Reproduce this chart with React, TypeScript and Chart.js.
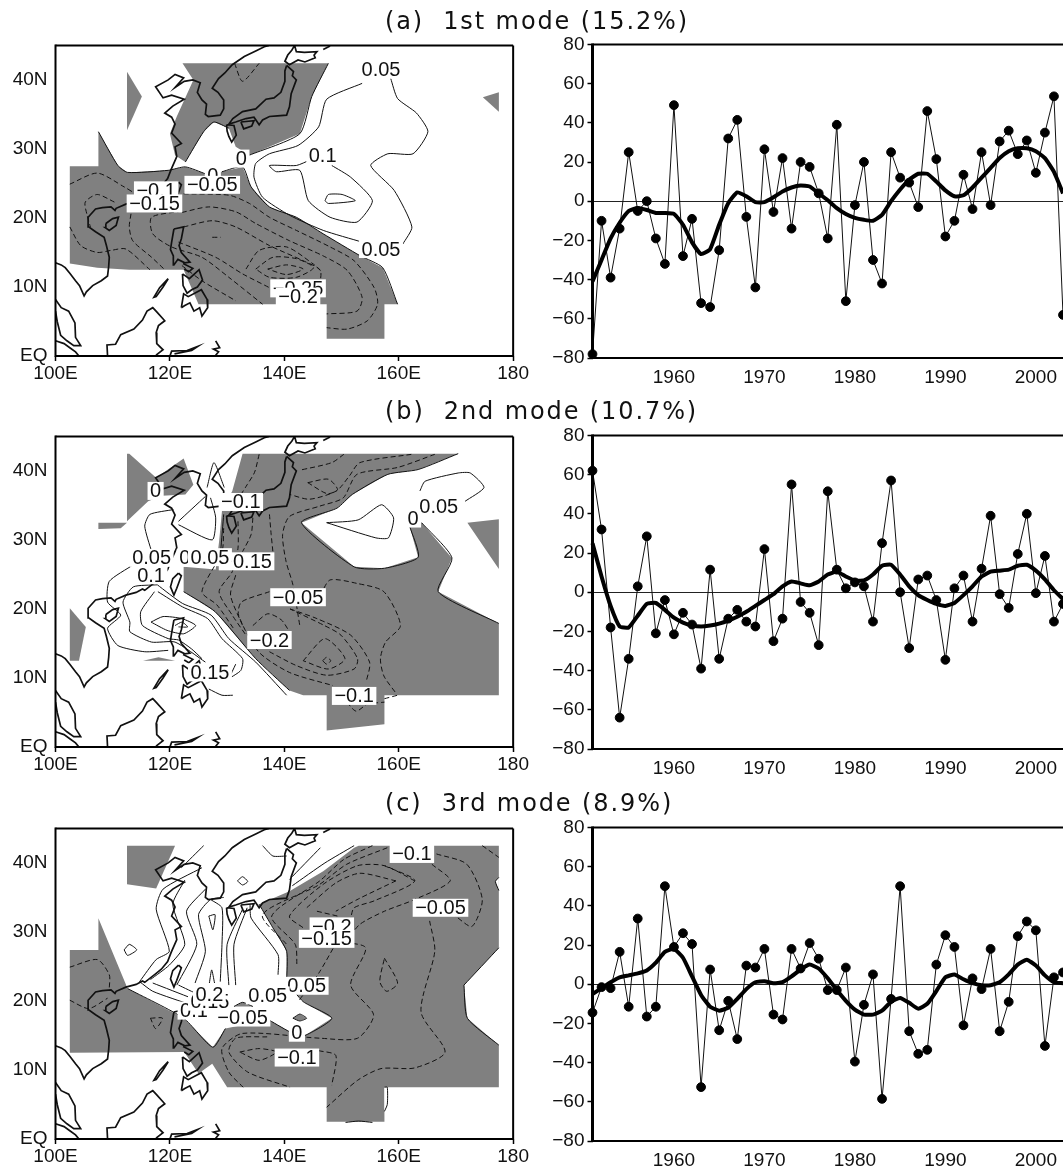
import React, { useEffect, useRef } from "react";
import { Chart, registerables } from "chart.js";
Chart.register(...registerables);

type P = number[];
type Lab = [number, number, string];

const years = [1951,1952,1953,1954,1955,1956,1957,1958,1959,1960,1961,1962,1963,1964,1965,1966,1967,1968,1969,1970,1971,1972,1973,1974,1975,1976,1977,1978,1979,1980,1981,1982,1983,1984,1985,1986,1987,1988,1989,1990,1991,1992,1993,1994,1995,1996,1997,1998,1999,2000,2001,2002,2003];

const pc1 = [-78,-10,-39,-14,25,-5,0,-19,-32,49,-28,-9,-52,-54,-25,32,41.5,-8,-44,26.5,-5.5,22,-14,20,17.5,4,-19,39,-51,-2,20,-30,-42,25,12,9.5,-3,46,21.5,-18,-10,13.5,-4,25,-2,30.5,36,24,31,14.5,35,53.5,-58];
const smooth1 = [-41,-30,-19,-11,-5,-3.5,-4.5,-6,-6,-6.5,-12,-21,-27,-24.5,-12,-1,4.5,2.5,-0.5,-0.5,2,5,7,8,7.5,4,0.5,-3.5,-6.5,-8.5,-9.5,-10,-7,0,6,11,14,14,10,5.5,2.5,3,7,12,17,22,25.5,27,27,25.5,22,15,4];
const pc2 = [62,32,-18,-64,-34,3,28.5,-21,-4,-21.5,-10.5,-16.5,-39,11.5,-34,-13.5,-9,-15,-17.5,22,-25,-13.5,55,-5,-10.5,-27,51.5,11.5,2,5,3,-15,25,57,0,-28.5,6.5,8.5,-4,-34.5,2,8.5,-15,12,39,-1,-8,19.5,40,-0.5,18.5,-15,-6];
const smooth2 = [25,8,-7,-17.5,-18,-12,-6,-5.5,-9,-13,-15.5,-17,-17.5,-17,-16,-14.5,-12.5,-10,-7,-4,-1,3,5.5,4.5,3.5,5.5,9,10.5,8,6,6,9,13.5,14,9,3,-1.5,-4,-6,-7,-5.5,-1.5,3,8,10.5,11,11.5,13.5,14,11,6.5,1,-3.5];
const pc3 = [-14.5,-1.5,-2,16.5,-11.5,33.5,-16.5,-11.5,50,19,26,20.5,-52.5,7.5,-23.5,-8.5,-28,9.5,8.5,18,-15.5,-18,18,8,21,13,-3,-3,8.5,-39.5,-10.5,5,-58.5,-7.5,50,-24,-35.5,-33.5,10,25,19,-21,3,-2.5,18,-24,-9,24.5,32,27.5,-31.5,3.5,6];
const smooth3 = [-5,-2,1,3.5,4.5,5.5,7,11,16.5,18,13.5,4,-5.5,-11.5,-13.5,-12,-7.5,-2.5,1,1.5,0.5,1,4,7.5,10,8,3,-3,-8.5,-13,-15.5,-15.5,-13.5,-9,-7,-9.5,-12.5,-10,-3.5,3.5,5,2.5,0.5,-0.5,-0.5,1,5,10,12.5,9.5,4.5,1,0.5];

const yearTicks = [1960,1970,1980,1990,2000];
const amplitudeTicks = [-80,-60,-40,-20,0,20,40,60,80];
const lonTicks = [100,120,140,160,180];
const lonLabels = ["100E","120E","140E","160E","180"];
const latTicks = [0,10,20,30,40];
const latLabels = ["EQ","10N","20N","30N","40N"];

const titles = ["(a)  1st mode (15.2%)","(b)  2nd mode (10.7%)","(c)  3rd mode (8.9%)"];

const coastline: P[][] = [
  [[100,13.5],[101,13.2],[101.7,12.8],[102.5,12],[103.5,10.9],[104.2,10.2],[105,8.7],[105.4,9.3],[106.5,10.2],[108,10.9],[109.1,11.6],[109.3,13],[109.4,14.3],[108.9,16],[108.5,17.2],[107,18],[105.8,18.7],[105.7,20.1],[107,21.3],[108.2,21.5],[109.7,21.6],[110.4,21.1],[110.6,21.4],[112.3,22],[114.1,22.4],[115.2,22.9],[115.6,22.7],[117.6,24],[118.5,24.6],[119.6,25.7],[120.2,27],[121.2,28.9],[120.9,30.3],[122,30.8],[120.3,32.3],[120.9,33.6],[120.3,34.6],[119.1,35.2],[120.5,36.2],[122.5,37.2],[120.3,37.8],[118.8,37.4],[117.5,39],[119.7,40],[120.9,40.8],[122.4,40.3],[120.9,38.9],[122.5,39.8],[124,40],[125.3,39.6],[124.8,38.2],[125.6,37.1],[126.4,36.5],[126.2,35],[126.7,34.7],[128.8,34.9],[129.4,35.8],[129.4,37.1],[128.4,38.2],[127.4,38.8],[128.5,40.2],[129.6,41],[130.9,42.2],[133,43.4],[135,44.2],[136.5,44.8],[137.3,45]],
  [[141.8,45],[142.1,44.1],[143.5,44],[145.7,44.1],[145.2,43.6],[145.4,43.2],[143.6,42.6],[142.4,42.9],[140.9,42.2],[140.1,42.7],[140.6,43.6],[141.3,44.3],[141.8,45]],
  [[146.8,44.4],[148,44.9]],
  [[140.4,42.1],[141.6,41.2],[141.4,40.6],[142.1,40],[141.2,38],[140.9,36.1],[140.4,34.9],[138.8,34.8],[137.4,34.7],[136.2,34.2],[135.6,33.5],[134.7,34.6],[133.3,34.4],[131.5,33.9],[130.3,33.6],[131,34.4],[132.7,35.4],[135,35.8],[136.8,37.2],[138.2,37.4],[139.4,38.2],[140.1,39.8],[140.1,41.3],[140.4,42.1]],
  [[129.9,33.5],[131.2,33.4],[131.6,32],[130.8,31],[130.3,31.8],[130,32.6],[129.9,33.5]],
  [[132.4,33.9],[134.7,34.1],[134.3,33.3],[132.9,32.9],[132.4,33.9]],
  [[121.5,25.2],[122,24.8],[121.2,23],[120.7,22],[120.1,23.2],[120.5,24.4],[121.5,25.2]],
  [[108.8,19.2],[110,19.9],[111,20.1],[110.6,18.9],[109.4,18.2],[108.7,18.6],[108.8,19.2]],
  [[120.7,18.4],[122.4,18.7],[122,17],[121.6,16],[122,15],[123.5,13.6],[122.6,13.5],[121.4,14],[120.7,13.2],[120.6,14.5],[120.1,15.4],[120.3,16.5],[120.7,18.4]],
  [[122.3,13.4],[124,12.7],[123.3,12.2],[122.5,12.6]],
  [[122.2,11.9],[123.4,11.2],[125.1,12.5],[125.7,11],[124.8,10],[123.8,9.6],[123,9.1],[122.3,10.2],[122.2,11.9]],
  [[122,7],[122.4,9],[123.2,8.6],[125.5,9.6],[126.5,8.2],[126.6,7],[125.6,5.8],[125.2,7],[124.2,6.5],[123.5,7.7],[122.6,7.3],[122,7]],
  [[119.7,11.2],[118.2,9.9],[117.2,8.5],[117.6,8.6],[118.8,10],[119.7,11.2]],
  [[109.1,0],[109,1.6],[110.5,1.7],[111.4,3.1],[113.7,3.9],[115.2,5.2],[116,6.5],[117,7],[117.7,6.4],[119.1,5.1],[118,4.4],[117.6,3.4],[117.7,1.8],[118.8,0.9],[117.7,0.2],[117.5,0]],
  [[120,0],[120.3,0.7],[123,0.8],[124.9,1.4],[123.8,0.8],[120.8,0.3]],
  [[128,2.2],[128.7,1.2],[127.6,1],[128.5,0.6],[127.9,0]],
  [[100,8.2],[101,7],[102.3,6.5],[103.4,4.8],[103.5,2.7],[104.4,1.5],[103.2,1.5],[102,2.2],[100.9,3],[100.3,5],[100,6.5]],
  [[100,2.2],[101.5,1.8],[102.5,1.2],[103.5,0.6],[104.1,0]],
];

const grayA: P[][] = [
  [[122.2,42.4],[147.7,42.4],[144.8,37.6],[142.7,32.2],[133.9,29.1],[131.5,30.3],[130.3,33],[127.7,33.9],[125.9,32.5],[122.7,28.1],[120.9,29.1],[120,32.2],[121.2,34.7],[124.1,40]],
  [[112.5,41.2],[115.1,37.6],[112.5,32.7]],
  [[177.5,38.2],[174.7,37.5],[177.5,35.4]],
  [[102.5,27.5],[107.5,27.5],[107.5,32.5],[110.9,27.6],[112.6,26.6],[119.7,26.9],[122.7,27.4],[126.2,26.4],[129.1,26.7],[132.7,27.4],[134.2,24.5],[137.4,21.6],[142.1,20.1],[146.8,17.7],[153.3,14.5],[157.2,12.8],[159.8,7.5],[157.5,7.5],[157.5,2.5],[147.4,2.5],[147.4,7.5],[125,7.5],[122.4,12.5],[112.9,12.5],[107.3,12.8],[102.5,13.4]],
];
const dashedA: P[][] = [
  [[102.5,24.9],[107.3,26.5],[112,24.5],[114,23.5]],
  [[110.3,22.3],[107.3,23.4],[105.2,22.3],[105.5,20.5],[106.1,18.7]],
  [[102.5,18.7],[104.4,16],[107.3,15],[109.7,15.3],[112.3,15.5],[116.5,12.5]],
  [[113.2,20.6],[112.9,18.7],[113.5,16.7],[116.8,14.3],[119.1,12.5]],
  [[122.4,23.5],[130.3,23.3],[133.9,22.1],[137.4,20.1],[142.1,18.2],[148,15.8],[152.2,13.8],[155.7,9.9],[156.3,7.5],[154.5,5.1],[151,3.9],[147.4,4.1]],
  [[122.1,20.8],[126.8,21.6],[131.5,20.9],[135,19.2],[140.9,16.7],[146.8,14.5],[151,12.4],[153.6,8.5],[152.7,6.5],[147.4,6.1]],
  [[122.1,21],[116.8,20.1],[117,17.7],[120.3,15.8],[125.6,14.3],[130.3,11.4],[136.2,7.5]],
  [[122.4,18.7],[127.4,19.6],[131.5,18.7],[137.4,16],[143.3,13.8],[146.3,12.4],[146,9.5]],
  [[121.5,16.5],[128,14.3],[132.7,11.9],[137.4,9.9]],
  [[122.1,13.1],[125.6,10.9],[131.5,8]],
  [[133.3,12.6],[135.6,15.3],[140.4,15.8],[145.1,13.3],[146.3,12.4]],
  [[135,12.6],[138,14.3],[142.1,14.1],[145.1,12.8],[142.1,11.4],[137.4,11.4],[135,12.6]],
  [[137.1,12.6],[140.4,13.2],[143.3,12.6],[140.4,11.8],[137.1,12.6]],
  [[127.4,17.2],[128.9,17.2]],
  [[131.3,42.4],[132.7,39.8],[135.6,42.4]],
];
const solidA: P[][] = [
  [[153.6,39.5],[147.4,37.2],[146,33.2],[142.4,30.5],[137.4,29.3],[135,27.9],[134.7,25.9],[136.2,23],[140.9,20.4],[146.8,18.2],[153.6,16.5]],
  [[160.7,16.2],[162.3,18.7],[159.2,24],[155.1,27.6],[158.1,29.3],[162.5,29.3],[165.1,32.5],[163.1,35.2],[159.8,37.3],[158.6,40.2]],
  [[148.3,27.6],[151.6,25.9],[155.4,22.5],[152.7,19.4],[148,20.1],[144.2,22.5],[142.7,26.9],[138.6,26.7],[137.4,27.6],[142.1,27.6],[144.5,28.4]],
  [[147.1,22.5],[147.7,23.4],[150.1,23.4],[152.4,22.5],[147.7,22.1],[147.1,22.5]],
  [[107.5,32.5],[110.9,27.6],[112.6,26.6],[119.7,26.9],[122.7,27.4],[126.2,26.4]],
  [[129.1,26.7],[132.7,27.4],[134.2,24.5],[137.4,21.6],[142.1,20.1],[146.8,17.7],[153.3,14.5],[157.2,12.8],[159.8,7.5]],
  [[147.7,42.4],[144.8,37.6],[142.7,32.2],[133.9,29.1]],
  [[130.3,33],[127.7,33.9],[125.9,32.5],[122.7,28.1]],
];
const labelsA: Lab[] = [
  [156.9,41.5,"0.05"],[146.7,29.1,"0.1"],[132.5,28.6,"0"],[127.5,26.2,"0"],[117.6,24,"−0.1"],[127.4,24.8,"−0.05"],[117.3,22.1,"−0.15"],[156.9,15.5,"0.05"],[142.4,9.8,"−0.25"],[142.4,8.6,"−0.2"],
];

const grayB: P[][] = [
  [[132.7,42.5],[170.4,42.5],[163.4,40.2],[158.1,39.5],[151.9,36.6],[149.2,34.6],[143,32.5],[152.2,26.1],[157.5,25.9],[163.4,27.5],[161.9,32],[164,32.5],[169.3,27.4],[166.9,22.5],[177.5,17.9],[177.5,7.5],[157.5,7.5],[157.5,3.3],[147.4,2.4],[147.4,7.5],[143.3,7.5],[140.9,8.2],[135,12.8],[127.9,19.6],[122.4,22.5],[122.4,26.1],[128,25.7],[128.6,29.8],[129.1,34.2],[130.9,37.1]],
  [[172,32.5],[177.5,33],[177.5,25.8]],
  [[112.5,42.5],[112.9,42.5],[117.6,39],[122.4,41.8],[124.1,38],[122.7,36.6],[118.6,36.4],[116.2,35.6],[112.5,32.7]],
  [[107.5,32.5],[112.5,32.5],[111.4,31.7],[107.5,31.6]],
  [[102.5,20.1],[105.3,17.4],[104.1,12.5],[102.5,12.5]],
  [[115.3,12.5],[118,13],[120.9,12.5]],
];
const dashedB: P[][] = [
  [[135.6,42.4],[134.8,39.8],[133.5,38],[130.9,34.6]],
  [[150.4,42.4],[148.3,41.2],[142.7,40.1]],
  [[162.2,42.4],[153.2,41.2],[151.4,39.3],[149.1,37.1],[144.4,35.9],[140.9,36.6]],
  [[166.3,42.4],[159.8,40.5],[152.7,39.5],[150.3,36.1],[146.2,34.9],[140.9,33.4],[139.7,30.8],[140.3,26.9],[141.5,23.5],[142.7,17.6]],
  [[144.1,38.3],[147.7,38.8],[149.3,37.3],[147.5,36.7],[144.1,38.3]],
  [[129.4,31.7],[129.1,28.3],[125.6,22.5],[128.2,20.6],[131.1,17.2]],
  [[131.9,32.7],[131.9,28.8],[130.9,25.4],[128.6,22.5],[130.9,19.1],[133.3,16.2]],
  [[137.4,33.7],[137.7,30.8],[138,28.3]],
  [[131.5,24.9],[130.6,22],[132.7,17.6]],
  [[134.5,33.2],[134.2,30.8],[132.7,28.3]],
  [[146.3,22],[148,24.2],[152.7,23.7],[157.4,22.5],[160.3,17.6],[157.7,15.2],[156.8,12.8],[157.4,10.3],[159.6,7.7]],
  [[137.4,22.5],[132.5,21],[132,19.1],[135.5,13.8],[140.9,10.8],[148.5,8.9]],
  [[134.5,17.6],[137.1,19.3],[139.5,18.4],[140.9,16.7]],
  [[141,20],[145.7,18.6],[151.6,16.2],[154.9,12.3],[154.3,9.4]],
  [[137.4,13.8],[142.1,11.8],[147.4,10.4],[152.2,11.3],[152.8,12.8],[149.9,16.2],[147,17.6],[141,20]],
  [[143.3,12.5],[147.1,15.7],[150.6,12.8],[147.7,11.3],[143.3,12.5]],
  [[146.7,12.5],[147.4,13],[148.1,12.5],[147.4,12],[146.7,12.5]],
  [[150.1,7.4],[152.5,5.2],[154.5,6.2],[157.5,6.5]],
  [[157.5,7],[159.8,7.5]],
];
const solidB: P[][] = [
  [[170.4,42.5],[163.4,40.2],[158.1,39.5],[151.9,36.6],[149.2,34.6],[143,32.5],[152.2,26.1],[157.5,25.9],[163.4,27.5],[161.9,32]],
  [[164,32.5],[169.3,27.4],[166.9,22.5],[177.5,17.9]],
  [[140.9,8.2],[135,12.8],[127.9,19.6],[122.4,22.5]],
  [[117.8,23.5],[122.2,20.8],[127.2,19.1],[130.3,15.7],[135,12.3],[140.4,7.5]],
  [[117.9,22.5],[122.2,20.3],[126.6,18.6],[129.1,15.7],[132.7,12.8],[132.4,11.1],[130.3,9.9]],
  [[117.3,22.5],[114.9,19.6],[115.2,17.6],[119.7,15.7],[121.5,15.5],[123.8,14.2],[125.6,12.8]],
  [[116.7,18.1],[118.8,18.9],[122.1,18.6],[124.5,17.6],[122.4,16.4],[119.5,16.9],[116.7,18.1]],
  [[120.9,17.6],[122.1,18.1],[123.1,17.4],[121.5,17.4]],
  [[117.8,23.5],[113.6,23.2],[111.8,21],[113,18.1],[113,16.7],[116.8,15.2],[120.9,15.2],[126.2,12.3]],
  [[113.6,26.4],[109.4,24],[109.1,21],[111.4,19.1],[109.1,17.2],[110.9,14.7],[115.6,13.8],[119.7,14]],
  [[120.6,34.4],[116.5,33.7],[115.6,32],[116.8,28.3]],
  [[121.5,32.7],[126.2,36.3]],
  [[121.5,32.2],[127.4,30],[128,33.2],[127.1,36.1]],
  [[129.4,33.7],[128.9,28.6]],
  [[126.5,37.6],[127.7,41.2],[129.5,37.6]],
  [[147.4,32.5],[152.9,32.9],[157,35.1],[159.1,33.2],[158.2,30.3],[156,30.3],[147.4,32.5]],
  [[163.7,37.1],[164.6,38.5],[170.4,39.7],[172.5,39.7],[174.9,37.6],[171.6,35.6]],
  [[126.8,8.4],[129.1,7.5],[131,7.5]],
  [[131.5,12],[130.3,9.9]],
];
const labelsB: Lab[] = [
  [117.5,37.1,"0"],[132.4,35.5,"−0.1"],[167,34.9,"0.05"],[162.5,33.1,"0"],[116.8,27.4,"0.05"],[133.4,26.9,"−0.15"],[122.6,27.4,"0"],[127,27.5,"0.05"],[116.7,24.9,"0.1"],[142.4,21.7,"−0.05"],[137.4,15.5,"−0.2"],[127,10.8,"0.15"],[152.2,7.4,"−0.1"],
];

const grayC: P[][] = [
  [[102.5,27.4],[107.5,27.4],[107.5,32],[112.6,21.8],[122.4,17.5],[127.5,13.3],[129.7,16],[132.7,16.5],[137.4,17.2],[141.5,15.3],[143.6,15],[148.3,17.5],[143.3,19.9],[140.4,22.8],[140.4,27.2],[138,30.6],[135.6,34],[140.9,35.9],[146.8,38.8],[152.2,42.2],[153,42.5],[177.5,42.5],[177.5,27.7],[171.4,22.3],[172,17.5],[177.5,13.6],[177.5,7.5],[157.5,7.5],[157.5,2.5],[147.4,2.5],[147.4,7.5],[130,7.5],[127.4,10.9],[125,9.5],[122.5,12.6],[102.5,12.5]],
  [[112.5,42.5],[120.9,42.5],[117.6,36.3],[112.5,36.9]],
  [[131.2,19.2],[132.7,19.8],[134.5,19.2]],
  [[141.5,17.5],[142.7,18.1],[143.9,17.5],[142.7,17.1]],
];
const whiteC: P[][] = [
  [[157.5,7.5],[158,7.5],[158,5],[157.5,4]],
  [[177.5,37.9],[176.9,37.3],[177.5,36]],
];
const dashedC: P[][] = [
  [[102.5,24.9],[107.3,26],[109.4,23.8],[109.4,21.8]],
  [[102.5,20.1],[105.8,18.9],[109.1,20.4]],
  [[116.6,17.5],[118.7,17.5],[117.5,16],[116.6,17.5]],
  [[174.6,42.5],[177.5,40.8]],
  [[166.6,41.3],[171.9,39.8],[174.6,34.7],[172.8,30.8],[169.9,32.3]],
  [[165.4,31.6],[166.3,27.2],[163.9,18.4],[168.1,12.6],[162.8,10.3],[156.9,10.2],[152.8,8.5],[147.4,4.6]],
  [[165.8,39.8],[169,37.4],[162.8,34.7],[157.5,33],[153.2,31.1],[151,28.8]],
  [[157.5,39.6],[162.8,37.4],[155.7,34.5],[152.2,33.5],[151.6,32]],
  [[162.8,37.4],[157.5,39.6],[152.8,39.6],[146.8,36.9],[140.9,32.3],[143.3,30.6]],
  [[159.5,37.4],[153.2,38.5],[149,37.1],[143.9,33.5]],
  [[159.5,37.4],[153,34.8],[149,33]],
  [[155.4,42.5],[150.4,40.5],[146.2,37.4],[137.8,32.3],[141.9,28.2],[142.2,25.2]],
  [[158,42.2],[150.9,39.8],[146,36.8],[136.2,32.5],[140.4,28.2]],
  [[145.7,33],[149.3,32.3]],
  [[149.2,28.6],[154.2,27.7],[151.6,22.3],[155.6,18],[152.8,14.6],[146.3,14.6],[132.7,15.3],[129.1,13.1],[130.3,9.7],[132.8,7.5]],
  [[149.2,28.6],[146,24],[142.5,20]],
  [[146,12.8],[149,12.1],[148.3,7.8]],
  [[137,14.8],[131.5,14.6],[130.3,12.6],[133.6,9.7],[141,7.5]],
  [[132.2,12.6],[135.6,13.1],[138.6,12.6],[135.6,11.4],[132.2,12.6]],
  [[157.5,26.2],[159.8,22.6],[157.9,21.4],[156.7,22.8],[157.5,26.2]],
];
const solidC: P[][] = [
  [[122,39.3],[125.9,42.5]],
  [[136.2,42.5],[138,41],[140.4,41]],
  [[140.9,37.6],[146.3,42.2]],
  [[141.4,36.7],[147.1,40],[152.2,42.5]],
  [[114.7,22.8],[117.6,26],[119.9,27.2],[117.6,33.3],[118.8,36.2],[125.6,39.3]],
  [[116.6,23.1],[119.9,25.2],[122.6,28.2],[120.5,34],[122.6,37.5]],
  [[121.2,22.3],[124.7,28.2],[122.9,33],[126.2,36.2]],
  [[124.4,22.6],[126.2,27.2],[125,32.5],[127.1,34.7],[129.4,35]],
  [[128.8,22.8],[129.1,28.2],[129.1,33.5],[127.1,34.7]],
  [[130.3,22.3],[130,28.2],[132.7,33.3]],
  [[131.5,22.3],[131.2,28.2],[133.5,33.5]],
  [[138.9,23.8],[138.9,26.7],[134.2,32],[134,34]],
  [[140.4,22.8],[140.4,27.2],[138,30.6],[135.6,34]],
  [[126.8,32.3],[127.9,32.5],[127.5,30.3],[126.8,32.3]],
  [[126.9,22.6],[127.3,24.5],[127.8,22.6]],
  [[114.7,22.8],[117,21.4],[123.8,19.4]],
  [[117,22.6],[123.8,20.4]],
  [[121.5,22.3],[125,20.9]],
  [[112.6,21.8],[122.4,17.5],[127.5,13.3],[129.7,16]],
  [[137.4,17.2],[141.5,15.3],[143.6,15],[148.3,17.5],[143.3,19.9],[140.4,22.8]],
  [[112,27.4],[112.9,28.2],[114.2,27.4],[112.6,26.6],[112,27.4]],
  [[131.8,37.4],[132.7,38],[133.6,37.3],[132.7,36.8],[131.8,37.4]],
  [[141.5,17.5],[142.7,18.1],[143.9,17.5],[142.7,17.1],[141.5,17.5]],
  [[131.2,19.2],[132.7,19.8],[134.5,19.2]],
  [[150.7,2.4],[153,2.6],[155.4,2.4]],
  [[171.4,22.3],[172,17.5],[177.5,13.6]],
  [[177.5,27.7],[171.4,22.3]],
  [[157.5,7.5],[158,7.5],[158,5],[157.5,4]],
  [[177.5,37.9],[176.9,37.3],[177.5,36]],
];
const labelsC: Lab[] = [
  [162.3,41.3,"−0.1"],[167.3,33.5,"−0.05"],[148.3,30.8,"−0.2"],[147.4,29,"−0.15"],[143.9,22.2,"0.05"],[124.2,18.6,"0.1"],[127,19.9,"0.15"],[126.9,20.9,"0.2"],[137.1,20.8,"0.05"],[132.7,17.6,"−0.05"],[142.2,15.4,"0"],[142.2,11.8,"−0.1"],
];

const FONT = '"Liberation Sans", Arial, sans-serif';
const INK = "#111";

const toPts = (p: P[]) => p.map(([x, y]) => ({ x, y }));
const polygon = (p: P[], color: string) => ({ data: toPts(p), showLine: true, pointRadius: 0, fill: "shape", backgroundColor: color, borderColor: "transparent", borderWidth: 0 });
const stroke = (p: P[], width: number, dash: number[], tension: number) => ({ data: toPts(p), showLine: true, pointRadius: 0, fill: false, borderColor: INK, borderWidth: width, borderDash: dash, tension });

const framePlugin = (leftWidth: number, rightSide: boolean) => ({
  id: "frame",
  afterDatasetsDraw(chart: any) {
    const { ctx, chartArea: a } = chart;
    ctx.save();
    ctx.strokeStyle = "#000";
    ctx.lineWidth = 2;
    ctx.beginPath();
    ctx.moveTo(a.left, a.top); ctx.lineTo(a.right, a.top);
    ctx.moveTo(a.left, a.bottom); ctx.lineTo(a.right, a.bottom);
    if (rightSide) { ctx.moveTo(a.right, a.top); ctx.lineTo(a.right, a.bottom); }
    ctx.stroke();
    ctx.lineWidth = leftWidth;
    ctx.beginPath();
    ctx.moveTo(a.left, a.top - 1); ctx.lineTo(a.left, a.bottom + 1);
    ctx.stroke();
    ctx.restore();
  },
});

const labelPlugin = (labels: Lab[]) => ({
  id: "contourLabels",
  afterDatasetsDraw(chart: any) {
    const { ctx, scales } = chart;
    ctx.save();
    ctx.font = `20px ${FONT}`;
    ctx.textAlign = "center";
    ctx.textBaseline = "middle";
    for (const [lon, lat, text] of labels) {
      const x = scales.x.getPixelForValue(lon);
      const y = scales.y.getPixelForValue(lat);
      const w = ctx.measureText(text).width + 5;
      ctx.fillStyle = "#fff";
      ctx.fillRect(x - w / 2, y - 9, w, 18);
      ctx.fillStyle = INK;
      ctx.fillText(text, x, y + 1);
    }
    ctx.restore();
  },
});

const axis = (min: number, max: number, ticks: number[], fmt: (v: number) => string, size: number, grid: any = { display: false }, pad = 3) => ({
  type: "linear",
  min,
  max,
  afterBuildTicks: (s: any) => { s.ticks = ticks.map((value) => ({ value })); },
  afterFit: (s: any) => { if (s.isHorizontal()) s.height = size; else s.width = size; },
  border: { display: false },
  grid: { display: true, color: "transparent", ...grid, drawOnChartArea: grid.drawOnChartArea ?? false, drawTicks: true, tickLength: 5, tickColor: "#000", tickWidth: 1.5 },
  ticks: { callback: (v: any) => fmt(Number(v)), color: INK, padding: pad, autoSkip: false, maxRotation: 0, minRotation: 0, font: { family: FONT, size: 19 } },
});

function MapPanel({ top, bottom, gray, white, dashed, solid, labels }: any) {
  const ref = useRef<HTMLCanvasElement>(null);
  const T = top - 14, R = 530;
  useEffect(() => {
    const painted = [
      ...gray.map((p: P[]) => polygon(p, "#808080")),
      ...(white || []).map((p: P[]) => polygon(p, "#fff")),
      ...dashed.map((p: P[]) => stroke(p, 1, [5, 3], 0.25)),
      ...solid.map((p: P[]) => stroke(p, 1, [], 0.2)),
      ...coastline.map((p) => stroke(p, 1.7, [], 0)),
    ];
    const chart = new Chart(ref.current!, {
      type: "scatter",
      data: { datasets: painted.reverse() as any },
      plugins: [framePlugin(2, true), labelPlugin(labels)],
      options: {
        animation: false,
        responsive: false,
        layout: { padding: { top: 14, right: R - 514.5, left: 0, bottom: 0 } },
        plugins: { legend: { display: false }, tooltip: { enabled: false }, title: { display: false } },
        scales: {
          x: axis(100, 180, lonTicks, (v) => lonLabels[lonTicks.indexOf(v)], 32, { display: true }, 1),
          y: axis(0, 45, latTicks, (v) => latLabels[latTicks.indexOf(v)], 55.5),
        },
      } as any,
    });
    return () => chart.destroy();
  }, []);
  return <canvas ref={ref} width={R} height={bottom + 32 - T} style={{ position: "absolute", left: 0, top: T, display: "block" }} />;
}

function SeriesPanel({ top, bottom, raw, smooth }: any) {
  const ref = useRef<HTMLCanvasElement>(null);
  const L = 535, T = top - 14, over = 30;
  useEffect(() => {
    const chart = new Chart(ref.current!, {
      type: "scatter",
      data: {
        datasets: [
          { data: years.map((x, i) => ({ x, y: smooth[i] })), showLine: true, pointRadius: 0, borderColor: "#000", borderWidth: 4, tension: 0.15, clip: false },
          { data: years.map((x, i) => ({ x, y: raw[i] })), showLine: true, pointRadius: 4.4, pointBackgroundColor: "#000", pointBorderColor: "#000", borderColor: "#111", borderWidth: 1, clip: false },
        ] as any,
      },
      plugins: [framePlugin(3, false)],
      options: {
        animation: false,
        responsive: false,
        layout: { padding: { top: 14, right: over, left: 0, bottom: 0 } },
        plugins: { legend: { display: false }, tooltip: { enabled: false }, title: { display: false } },
        scales: {
          x: axis(1951, 2003, yearTicks, (v) => String(v), 30),
          y: axis(-80, 80, amplitudeTicks, (v) => (v < 0 ? "−" + Math.abs(v) : String(v)), 592.5 - L, {
            display: true,
            drawOnChartArea: true,
            color: (c: any) => (c.tick && c.tick.value === 0 ? "#222" : "transparent"),
            lineWidth: 1,
          }),
        },
      } as any,
    });
    return () => chart.destroy();
  }, []);
  return <canvas ref={ref} width={1063 + over - L} height={bottom + 30 - T} style={{ position: "absolute", left: L, top: T, display: "block" }} />;
}

const Title = ({ y, text }: { y: number; text: string }) => (
  <div style={{ position: "absolute", left: 385, top: y, whiteSpace: "pre", font: '24px "DejaVu Sans", sans-serif', letterSpacing: "1.9px", color: INK, lineHeight: "26px" }}>{text}</div>
);

export default function App() {
  return (
    <div style={{ position: "absolute", left: 0, top: 0, width: 1063, height: 1169, overflow: "hidden", background: "#fff" }}>
      <MapPanel top={45} bottom={356} gray={grayA} dashed={dashedA} solid={solidA} labels={labelsA} />
      <MapPanel top={436} bottom={747} gray={grayB} dashed={dashedB} solid={solidB} labels={labelsB} />
      <MapPanel top={828} bottom={1139} gray={grayC} white={whiteC} dashed={dashedC} solid={solidC} labels={labelsC} />
      <SeriesPanel top={44} bottom={358} raw={pc1} smooth={smooth1} />
      <SeriesPanel top={435} bottom={749} raw={pc2} smooth={smooth2} />
      <SeriesPanel top={827} bottom={1141} raw={pc3} smooth={smooth3} />
      <Title y={8} text={titles[0]} />
      <Title y={398} text={titles[1]} />
      <Title y={790} text={titles[2]} />
    </div>
  );
}
